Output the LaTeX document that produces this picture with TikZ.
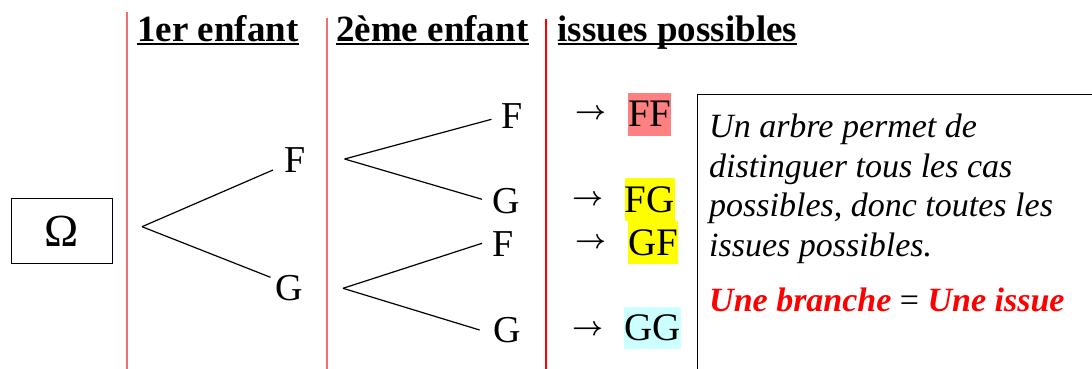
\documentclass[tikz,border=0pt]{standalone}
\usepackage{fontspec}
\usepackage{graphicx}
\setmainfont{Liberation Serif}
\definecolor{salmon}{HTML}{FF8080}
\definecolor{yel}{HTML}{FFFF00}
\definecolor{cyanl}{HTML}{CCFFFF}
\definecolor{redsep}{HTML}{F07070}
\definecolor{redfull}{RGB}{255,0,0}
\newcommand{\arrowglyph}{\resizebox{31pt}{!}{\boldmath$\rightarrow$}}
\begin{document}
\begin{tikzpicture}[x=1pt,y=-1pt,
  sep/.style={draw=redsep, line width=1.3pt},
  head/.style={anchor=base west, inner sep=0pt, font=\fontsize{37}{40}\selectfont\bfseries},
  lbl/.style={inner sep=0pt, font=\fontsize{38}{40}\selectfont},
  br/.style={line width=1.2pt},
  res/.style={inner sep=0pt, font=\fontsize{39}{40}\selectfont},
  arr/.style={inner sep=0pt},
  note/.style={anchor=base west, inner sep=0pt, font=\fontsize{34}{40}\selectfont\itshape},
  ul/.style={line width=2pt}]
\useasboundingbox (0,0) rectangle (1092,369);
% separators
\draw[sep] (127,12) -- (127,369);
\draw[sep] (327,18) -- (327,369);
\fill[redfull] (544.5,19) rectangle (546.5,369);
% headings
\node[head] (h1) at (137,41.5) {1er enfant\ };
\node[head] (h2) at (336,41.5) {2ème enfant};
\node[head] (h3) at (557.5,41.5) {issues possibles};
\foreach \h in {h1,h2,h3}
  \draw[ul] ([yshift=-3pt]\h.base west) -- ([yshift=-3pt]\h.base east);
% root
\node[draw, line width=1.3pt, minimum width=101pt, minimum height=65pt, inner sep=0pt, font=\fontsize{46}{48}\selectfont] (om) at (62,230.8) {Ω};
% first level
\coordinate (r) at (142,226.7);
\coordinate (f1e) at (273,170);
\coordinate (g1e) at (270.5,277.3);
\node[lbl] (f1) at (295,160) {F};
\node[lbl] (g1) at (289.5,288) {G};
\draw[br] (r) -- (f1e);
\draw[br] (r) -- (g1e);
% second level
\coordinate (a) at (344.6,159);
\coordinate (a1) at (491.5,119.3);
\coordinate (a2) at (482,199.3);
\coordinate (b) at (343,288.3);
\coordinate (b1) at (482,243.3);
\coordinate (b2) at (479.6,330);
\draw[br] (a) -- (a1);
\draw[br] (a) -- (a2);
\draw[br] (b) -- (b1);
\draw[br] (b) -- (b2);
\node[lbl] (ff2) at (512,116) {F};
\node[lbl] (fg2) at (506.6,201) {G};
\node[lbl] (gf2) at (503.5,244) {F};
\node[lbl] (gg2) at (507,330) {G};
% arrows
\node[arr] (ar1) at (590.5,114) {\arrowglyph};
\node[arr] (ar2) at (587.5,200) {\arrowglyph};
\node[arr] (ar3) at (590.5,243) {\arrowglyph};
\node[arr] (ar4) at (587.5,330) {\arrowglyph};
% results
\node[res, fill=salmon, minimum width=41.7pt, minimum height=43pt] (ff) at (649.8,114.2) {FF};
\node[res, fill=yel, minimum width=48.3pt, minimum height=43.3pt] (fg) at (649.8,199.3) {FG};
\node[res, fill=yel, minimum width=48.3pt, minimum height=43pt] (gf) at (653.1,242.5) {GF};
\node[res, fill=cyanl, minimum width=53.6pt, minimum height=42.6pt] (gg) at (652.5,328) {GG};
% note box
\draw[line width=1.3pt] (697.4,369) -- (697.4,94.7) -- (1092,94.7);
\node[note] (n1) at (709,137) {Un arbre permet de};
\node[note] (n2) at (709,177) {distinguer tous les cas};
\node[note] (n3) at (709,216.5) {possibles, donc toutes les};
\node[note] (n4) at (709,256.5) {issues possibles.};
\node[note] (n5) at (709,311.5) {{\color{red}\bfseries Une branche} {\upshape =} {\color{red}\bfseries Une issue}};
\end{tikzpicture}
\end{document}
